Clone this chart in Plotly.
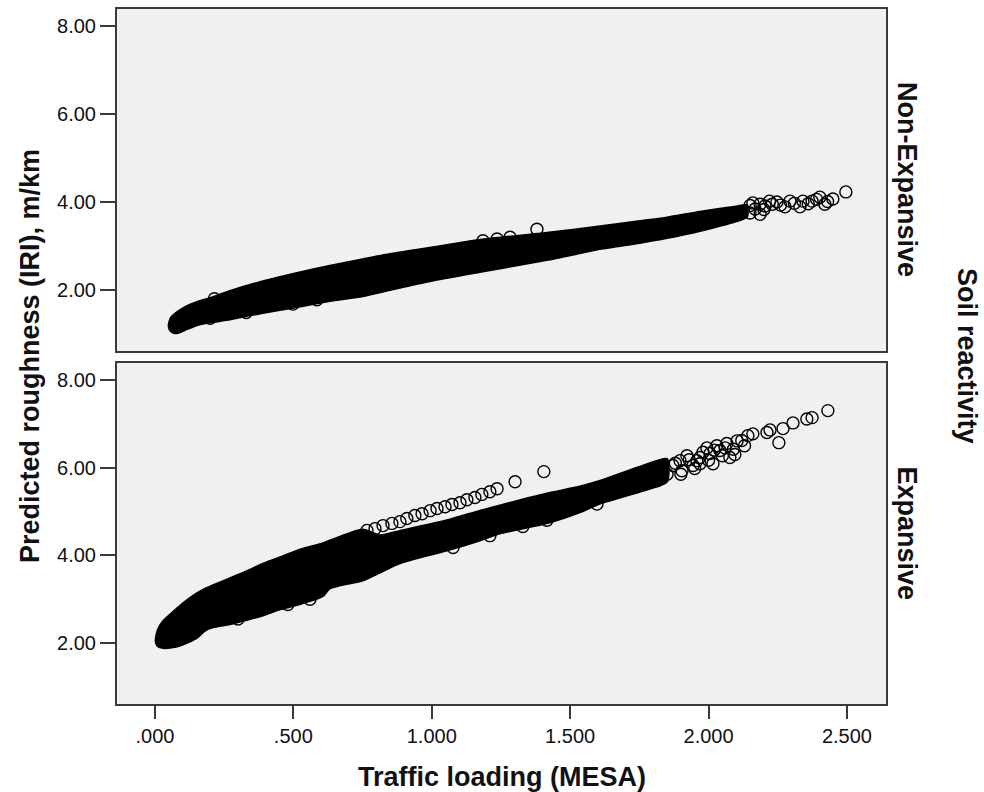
import plotly.graph_objects as go

# ---------------- data ----------------
x_tick_vals = [0.0, 0.5, 1.0, 1.5, 2.0, 2.5]
x_tick_text = [".000", ".500", "1.000", "1.500", "2.000", "2.500"]
y_tick_vals = [2, 4, 6, 8]
y_tick_text = ["2.00", "4.00", "6.00", "8.00"]

# Non-Expansive: envelope of the dense (solid black) part of the point cloud
ne_band_x = [0.050, 0.056, 0.068, 0.085, 0.116, 0.152, 0.199, 0.271, 0.390, 0.513,
             0.632, 0.751, 0.849, 0.993, 1.174, 1.416, 1.608, 1.752, 1.850, 1.969,
             2.100, 2.139]
ne_band_hi = [1.22, 1.35, 1.44, 1.52, 1.64, 1.73, 1.82, 1.98, 2.20, 2.39,
              2.55, 2.70, 2.82, 2.96, 3.14, 3.30, 3.45, 3.57, 3.65, 3.78,
              3.90, 3.93]
ne_band_lo = [1.16, 1.07, 1.02, 1.03, 1.11, 1.20, 1.26, 1.33, 1.48, 1.61,
              1.75, 1.86, 2.00, 2.20, 2.41, 2.68, 2.93, 3.07, 3.18, 3.34,
              3.56, 3.66]
# Non-Expansive: individually visible points
ne_pts_x = [0.075, 0.080, 0.199, 0.215, 0.330, 0.499, 0.585, 0.700, 1.185, 1.236,
            1.283, 1.380, 2.150, 2.150, 2.168, 2.186, 2.186, 2.204, 2.230, 2.247,
            2.276, 2.294, 2.330, 2.341, 2.374, 2.402, 2.420, 2.449, 2.496,
            2.160, 2.200, 2.220, 2.260, 2.310, 2.360, 2.390, 2.430]
ne_pts_y = [1.30, 1.16, 1.36, 1.80, 1.49, 1.68, 1.78, 1.97, 3.12, 3.16,
            3.20, 3.38, 3.92, 3.75, 3.84, 3.72, 3.95, 3.91, 3.95, 4.00,
            3.89, 4.02, 3.89, 4.02, 4.02, 4.11, 3.95, 4.07, 4.23,
            3.98, 3.83, 4.02, 3.93, 3.97, 3.96, 4.06, 4.01]

# Expansive: envelope of the dense part of the point cloud
ex_band_x = [0.003, 0.010, 0.029, 0.072, 0.101, 0.152, 0.180, 0.210, 0.271, 0.332,
             0.390, 0.452, 0.513, 0.607, 0.632, 0.751, 0.813, 0.885, 1.055, 1.174,
             1.246, 1.416, 1.535, 1.608, 1.752, 1.850]
ex_band_hi = [2.10, 2.30, 2.50, 2.75, 2.91, 3.14, 3.24, 3.32, 3.48, 3.64,
              3.81, 3.96, 4.11, 4.28, 4.34, 4.59, 4.46, 4.56, 4.80, 5.02,
              5.14, 5.41, 5.57, 5.70, 6.02, 6.20]
ex_band_lo = [2.02, 1.93, 1.89, 1.91, 1.97, 2.12, 2.28, 2.36, 2.43, 2.53,
              2.63, 2.77, 2.87, 3.07, 3.25, 3.43, 3.61, 3.82, 4.11, 4.34,
              4.50, 4.73, 4.98, 5.18, 5.45, 5.68]
# Expansive: individually visible points (upper track, outliers, tail)
ex_pts_x = [0.766, 0.795, 0.824, 0.856, 0.885, 0.910, 0.939, 0.965, 0.994, 1.019,
            1.048, 1.073, 1.102, 1.127, 1.156, 1.181, 1.210, 1.236, 1.301, 1.405,
            0.300, 0.480, 0.560, 1.077, 1.210, 1.329, 1.416, 1.597,
            1.752, 1.777, 1.814, 1.824, 1.850, 1.871, 1.897, 1.904, 1.922, 1.944,
            1.958, 1.969, 1.969, 1.994, 2.005, 2.016, 2.030, 2.041, 2.066, 2.077,
            2.095, 2.103, 2.142, 2.160, 2.211, 2.222, 2.254, 2.269, 2.305, 2.355,
            2.374, 2.431,
            1.880, 1.900, 1.930, 1.950, 1.980, 2.000, 2.020, 2.050, 2.060, 2.090,
            2.120, 2.130]
ex_pts_y = [4.57, 4.61, 4.68, 4.73, 4.77, 4.84, 4.91, 4.95, 5.02, 5.07,
            5.11, 5.16, 5.20, 5.27, 5.32, 5.39, 5.45, 5.52, 5.68, 5.91,
            2.55, 2.88, 3.00, 4.18, 4.45, 4.66, 4.80, 5.17,
            5.70, 5.77, 5.70, 6.00, 5.85, 6.05, 6.16, 5.93, 6.27, 6.05,
            6.16, 6.09, 6.23, 6.45, 6.32, 6.09, 6.50, 6.39, 6.55, 6.23,
            6.30, 6.61, 6.73, 6.77, 6.80, 6.86, 6.57, 6.89, 7.02, 7.11,
            7.14, 7.30,
            6.10, 5.85, 6.18, 5.98, 6.35, 6.17, 6.40, 6.27, 6.45, 6.42,
            6.62, 6.50]

# ---------------- figure ----------------
FONT = "Liberation Sans, Arial, sans-serif"
INK = "#111111"
FRAME = "#3a3a3a"

fig = go.Figure()


def add_panel(bx, hi, lo, px, py, xa, ya):
    poly_x = bx + bx[::-1] + [bx[0]]
    poly_y = hi + lo[::-1] + [hi[0]]
    fig.add_trace(go.Scatter(
        x=poly_x, y=poly_y, xaxis=xa, yaxis=ya, mode="lines",
        fill="toself", fillcolor="#000000",
        line=dict(color="#000000", width=2, shape="spline", smoothing=0.6),
        hoverinfo="skip", showlegend=False))
    fig.add_trace(go.Scatter(
        x=px, y=py, xaxis=xa, yaxis=ya, mode="markers",
        marker=dict(symbol="circle-open", size=12, color="#000000",
                    line=dict(width=1.4)),
        showlegend=False))


add_panel(ne_band_x, ne_band_hi, ne_band_lo, ne_pts_x, ne_pts_y, "x", "y")
add_panel(ex_band_x, ex_band_hi, ex_band_lo, ex_pts_x, ex_pts_y, "x2", "y2")

x_range = [-0.137, 2.641]
y_range = [0.614, 8.386]

common_axis = dict(showline=True, mirror=True, linecolor=FRAME, linewidth=2,
                   showgrid=False, zeroline=False,
                   tickfont=dict(family=FONT, size=20, color=INK))

fig.update_layout(
    width=984, height=792,
    margin=dict(l=117, r=98, t=7, b=88),
    paper_bgcolor="white", plot_bgcolor="#F0F0F0",
    showlegend=False,
    xaxis=dict(domain=[0, 1], anchor="y", range=x_range, matches="x2",
               showticklabels=False, ticks="", **common_axis),
    yaxis=dict(domain=[0.5079, 1], anchor="x", range=y_range,
               tickvals=y_tick_vals, ticktext=y_tick_text,
               ticks="outside", ticklen=15, tickwidth=2, tickcolor=FRAME,
               **common_axis),
    xaxis2=dict(domain=[0, 1], anchor="y2", range=x_range,
                tickvals=x_tick_vals, ticktext=x_tick_text,
                ticks="outside", ticklen=13, tickwidth=2, tickcolor=FRAME,
                **common_axis),
    yaxis2=dict(domain=[0, 0.4907], anchor="x2", range=y_range,
                tickvals=y_tick_vals, ticktext=y_tick_text,
                ticks="outside", ticklen=15, tickwidth=2, tickcolor=FRAME,
                **common_axis),
)

title_font = dict(family=FONT, size=27, color=INK)
fig.add_annotation(text="<b>Traffic loading (MESA)</b>", xref="paper", yref="paper",
                   x=0.5, y=-0.1047, xanchor="center", yanchor="middle",
                   showarrow=False, font=title_font)
fig.add_annotation(text="<b>Predicted roughness (IRI), m/km</b>", xref="paper", yref="paper",
                   x=-0.1131, y=0.5007, xanchor="center", yanchor="middle",
                   textangle=-90, showarrow=False, font=title_font)
fig.add_annotation(text="<b>Non-Expansive</b>", xref="paper", yref="paper",
                   x=1.0273, y=0.754, xanchor="center", yanchor="middle",
                   textangle=90, showarrow=False, font=title_font)
fig.add_annotation(text="<b>Expansive</b>", xref="paper", yref="paper",
                   x=1.0273, y=0.2453, xanchor="center", yanchor="middle",
                   textangle=90, showarrow=False, font=title_font)
fig.add_annotation(text="<b>Soil reactivity</b>", xref="paper", yref="paper",
                   x=1.1053, y=0.5007, xanchor="center", yanchor="middle",
                   textangle=90, showarrow=False, font=title_font)

fig.write_html("out.html",
               config={"displayModeBar": False},
               post_script="document.body.style.margin='0';"
                           "document.body.style.overflow='hidden';")
